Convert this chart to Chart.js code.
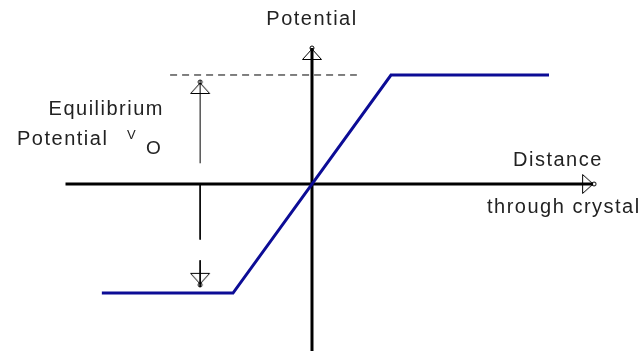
<!DOCTYPE html>
<html>
<head>
<meta charset="utf-8">
<script src="https://cdn.jsdelivr.net/npm/chart.js@4"></script>
<style>
  html, body { margin: 0; padding: 0; background: #fff; }
  #chart { display: block; }
</style>
</head>
<body>
<canvas id="chart" width="639" height="351"></canvas>
<script>
// Potencial a traves del cristal (V0 = 1)
const distancia = [-6.65, -2.5, 2.5, 7.5];
const potencial = [-1, -1, 1, 1];

// Linea de V0 (discontinua)
const v0X = [-4.49, 1.42];
const v0Y = [1, 1];

// Ejes
const ejeX = [-7.8, 8.77, 8.89];
const ejeY = [-1.6, 1.202, 1.248];

// Flechas de "Equilibrium Potential"
const flechaX = -3.54;
const flechaArriba = [0.19, 0.89, 0.95];
const flechaAbajo1 = [0, -0.51];
const flechaAbajo2 = [-0.70, -0.88, -0.945];

function puntos(xs, ys) {
    return xs.map((x, i) => ({ x: x, y: ys[i] }));
}

// Punta de flecha hueca (triangulo con circulito en la punta)
function crearPunta() {
    const c = document.createElement('canvas');
    c.width = 22;
    c.height = 16;
    const g = c.getContext('2d');
    g.strokeStyle = '#000';
    g.lineWidth = 1;
    g.beginPath();
    g.moveTo(11, 4);
    g.lineTo(1.5, 14.5);
    g.lineTo(20.5, 14.5);
    g.closePath();
    g.stroke();
    g.beginPath();
    g.arc(11, 3, 2, 0, Math.PI * 2);
    g.stroke();
    return c;
}
const punta = crearPunta();

const textos = {
    id: 'textos',
    afterDraw(chart) {
        const ctx = chart.ctx;
        ctx.save();
        ctx.fillStyle = '#222';
        ctx.letterSpacing = '1.5px';
        ctx.font = '20px "Liberation Sans", Arial, sans-serif';
        ctx.textBaseline = 'alphabetic';

        ctx.textAlign = 'center';
        ctx.fillText('Potential', 312, 25);

        ctx.textAlign = 'right';
        ctx.fillText('Equilibrium', 164, 115);

        ctx.textAlign = 'left';
        ctx.fillText('Potential', 17, 145);
        ctx.fillText('Distance', 513, 166);
        ctx.fillText('through crystal', 487, 213);

        ctx.letterSpacing = '0px';
        ctx.font = '13px "Liberation Sans", Arial, sans-serif';
        ctx.fillText('V', 127, 139);
        ctx.font = '19px "Liberation Sans", Arial, sans-serif';
        ctx.fillText('O', 146, 154);
        ctx.restore();
    }
};

const negro = '#000';
const azul = '#0c0c96';

new Chart(document.getElementById('chart'), {
    type: 'scatter',
    data: {
        datasets: [
            {
                data: puntos(distancia, potencial),
                showLine: true,
                borderColor: azul,
                borderWidth: 3,
                pointRadius: 0,
                order: 0
            },
            {
                data: puntos(v0X, v0Y),
                showLine: true,
                borderColor: negro,
                borderWidth: 1,
                borderDash: [7, 5],
                pointRadius: 0,
                order: 3
            },
            {
                data: puntos(ejeX, [0, 0, 0]),
                showLine: true,
                borderColor: negro,
                borderWidth: 3,
                pointRadius: [0, 8, 0],
                pointStyle: punta,
                rotation: 90,
                order: 2
            },
            {
                data: puntos([0, 0, 0], ejeY),
                showLine: true,
                borderColor: negro,
                borderWidth: 3,
                pointRadius: [0, 8, 0],
                pointStyle: punta,
                order: 2
            },
            {
                data: puntos([flechaX, flechaX, flechaX], flechaArriba),
                showLine: true,
                borderColor: negro,
                borderWidth: 1,
                pointRadius: [0, 8, 0],
                pointStyle: punta,
                order: 1
            },
            {
                data: puntos([flechaX, flechaX], flechaAbajo1),
                showLine: true,
                borderColor: negro,
                borderWidth: 1,
                pointRadius: 0,
                order: 1
            },
            {
                data: puntos([flechaX, flechaX, flechaX], flechaAbajo2),
                showLine: true,
                borderColor: negro,
                borderWidth: 1,
                pointRadius: [0, 8, 0],
                pointStyle: punta,
                rotation: 180,
                order: 1
            }
        ]
    },
    options: {
        responsive: false,
        animation: false,
        layout: { padding: 0 },
        plugins: {
            legend: { display: false },
            tooltip: { enabled: false }
        },
        scales: {
            x: { type: 'linear', min: -9.873, max: 10.348, display: false },
            y: { type: 'linear', min: -1.532, max: 1.688, display: false }
        }
    },
    plugins: [textos]
});
</script>
</body>
</html>
